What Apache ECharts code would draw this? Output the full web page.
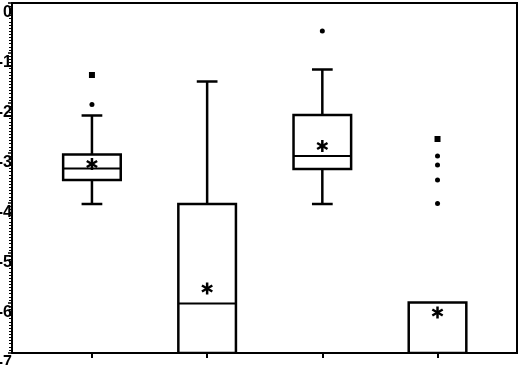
<!DOCTYPE html>
<html>
<head>
<meta charset="utf-8">
<script src="https://cdn.jsdelivr.net/npm/echarts@6/dist/echarts.min.js"></script>
<style>
  html, body { margin: 0; padding: 0; background: #fff; }
  #chart { width: 520px; height: 365px; }
</style>
</head>
<body>
<div id="chart"></div>
<script>
// groups sit at x = 1..4
const groups = [1, 2, 3, 4]
const minV = [-4.02, -7, -4.02, -7]
const q1V = [-3.54, -7, -3.32, -7]
const medV = [-3.31, -6.01, -3.06, -7]
const q3V = [-3.03, -4.02, -2.24, -5.99]
const maxV = [-2.25, -1.57, -1.33, -5.99]
const meanV = [-3.22, -5.71, -2.86, -6.19]
const outlierDots = [[1, -2.03], [3, -0.56], [4, -3.06], [4, -3.24], [4, -3.54], [4, -4.01]]
const outlierSquares = [[1, -1.44], [4, -2.72]]

const boxData = groups.map((g, i) => [g, minV[i], q1V[i], medV[i], q3V[i], maxV[i]])
const meanData = groups.map((g, i) => [g, meanV[i]])

const BOX_W = 0.5
const CAP_W = 0.18

function renderBox (params, api) {
  const x = api.value(0)
  const [lo, q1, med, q3, hi] = [1, 2, 3, 4, 5].map(k => api.value(k))
  const pt = (vx, vy) => api.coord([vx, vy])
  const line = (a, b, w) => ({
    type: 'line',
    shape: { x1: a[0], y1: a[1], x2: b[0], y2: b[1] },
    style: { stroke: '#000', lineWidth: w }
  })
  const left = pt(x - BOX_W / 2, q3)
  const right = pt(x + BOX_W / 2, q1)
  const children = [{
    type: 'rect',
    shape: { x: left[0], y: left[1], width: right[0] - left[0], height: right[1] - left[1] },
    style: { fill: 'none', stroke: '#000', lineWidth: 2.5 }
  }]
  children.push(line(pt(x - BOX_W / 2, med), pt(x + BOX_W / 2, med), 2))
  if (hi > q3) {
    children.push(line(pt(x, q3), pt(x, hi), 2.5))
    children.push(line(pt(x - CAP_W / 2, hi), pt(x + CAP_W / 2, hi), 2.5))
  }
  if (lo < q1) {
    children.push(line(pt(x, q1), pt(x, lo), 2.5))
    children.push(line(pt(x - CAP_W / 2, lo), pt(x + CAP_W / 2, lo), 2.5))
  }
  return { type: 'group', children }
}

function renderStar (params, api) {
  const c = api.coord([api.value(0), api.value(1)])
  const r = 6
  const children = [0, 60, 120].map(deg => {
    const a = deg * Math.PI / 180
    const dx = Math.sin(a) * r
    const dy = Math.cos(a) * r
    return {
      type: 'line',
      shape: { x1: c[0] - dx, y1: c[1] - dy, x2: c[0] + dx, y2: c[1] + dy },
      style: { stroke: '#000', lineWidth: 2.5 }
    }
  })
  return { type: 'group', children }
}

const chart = echarts.init(document.getElementById('chart'))
chart.setOption({
  animation: false,
  backgroundColor: '#fff',
  grid: {
    left: 12, right: 3, top: 3, bottom: 12,
    outerBoundsMode: 'none',
    show: true, borderColor: '#000', borderWidth: 2
  },
  xAxis: {
    type: 'value',
    min: 0.306,
    max: 4.69,
    axisLine: { show: true, onZero: false, lineStyle: { color: '#000', width: 2 } },
    axisTick: { show: true, customValues: groups, length: 5, lineStyle: { color: '#000', width: 2 } },
    axisLabel: { show: false },
    splitLine: { show: false }
  },
  yAxis: {
    type: 'value',
    min: -7,
    max: 0,
    interval: 1,
    axisLine: { show: true, lineStyle: { color: '#000', width: 2 } },
    axisTick: { show: true, length: 4, lineStyle: { color: '#000', width: 1.5 } },
    minorTick: { show: true, splitNumber: 16, length: 3, lineStyle: { color: '#000', width: 1 } },
    axisLabel: {
      color: '#000',
      fontFamily: 'Liberation Sans',
      fontWeight: 'bold',
      fontSize: 16,
      margin: 0,
      verticalAlign: 'top',
      padding: [2, 0, 0, 0]
    },
    splitLine: { show: false }
  },
  series: [
    {
      type: 'custom',
      renderItem: renderBox,
      data: boxData,
      clip: true,
      encode: { x: 0, y: [1, 2, 3, 4, 5] }
    },
    {
      type: 'custom',
      renderItem: renderStar,
      data: meanData,
      encode: { x: 0, y: 1 }
    },
    {
      type: 'scatter',
      data: outlierDots,
      symbol: 'circle',
      symbolSize: 5,
      itemStyle: { color: '#000', opacity: 1 }
    },
    {
      type: 'scatter',
      data: outlierSquares,
      symbol: 'rect',
      symbolSize: 6,
      itemStyle: { color: '#000', opacity: 1 }
    }
  ]
})
</script>
</body>
</html>
